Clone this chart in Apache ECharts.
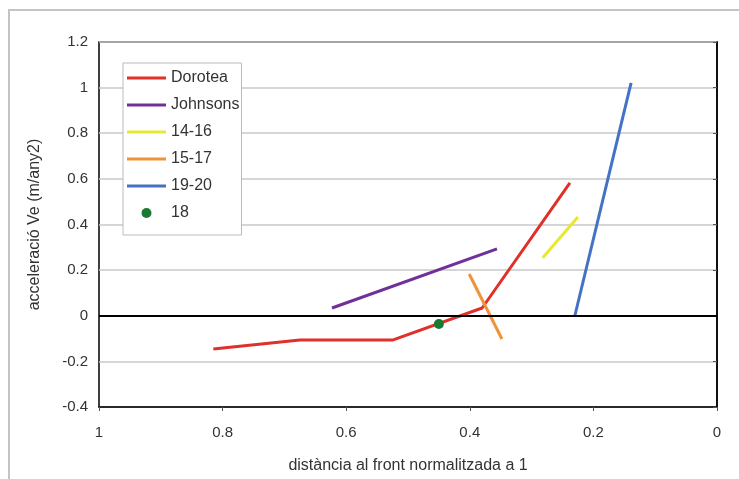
<!DOCTYPE html>
<html>
<head>
<meta charset="utf-8">
<script src="https://cdn.jsdelivr.net/npm/echarts@6/dist/echarts.min.js"></script>
<style>html,body{margin:0;padding:0;background:#fff}#c{width:739px;height:479px}</style>
</head>
<body>
<div id="c"></div>
<script>
const seriesNames = ["Dorotea", "Johnsons", "14-16", "15-17", "19-20", "18"];
const dorotea = [[0.815, -0.146], [0.675, -0.106], [0.524, -0.106], [0.380, 0.034], [0.238, 0.582]];
const johnsons = [[0.623, 0.034], [0.356, 0.293]];
const s1416 = [[0.282, 0.254], [0.225, 0.433]];
const s1517 = [[0.401, 0.183], [0.348, -0.102]];
const s1920 = [[0.230, 0.0], [0.139, 1.021]];
const s18 = [[0.450, -0.036]];
const xTitle = "distància al front normalitzada a 1";
const yTitle = "acceleració Ve (m/any2)";

const colors = ["#e0302a", "#70309a", "#e8e830", "#f0923a", "#4472c4", "#1a7a32"];
const font = "Liberation Sans, Arial, sans-serif";

function lineSeries(name, data, color) {
  return {
    name: name, type: "line", data: data, symbol: "none",
    lineStyle: { color: color, width: 3 }, itemStyle: { color: color },
    z: 3, silent: true
  };
}

const chart = echarts.init(document.getElementById("c"), null, { renderer: "canvas" });
chart.setOption({
  animation: false,
  backgroundColor: "#fff",
  textStyle: { fontFamily: font },
  graphic: [{
    type: "polyline",
    shape: { points: [[9, 479], [9, 10], [739, 10]] },
    style: { stroke: "#c4c4c4", lineWidth: 2, fill: null },
    silent: true
  }],
  grid: { left: 99, right: 22, top: 42, bottom: 72, show: true, borderColor: "#000", borderWidth: 1.5, backgroundColor: "transparent" },
  xAxis: {
    type: "value", inverse: true, min: 0, max: 1, interval: 0.2,
    name: xTitle, nameLocation: "middle", nameGap: 51,
    nameTextStyle: { fontFamily: font, fontSize: 16, color: "#333" },
    axisLine: { show: true, onZero: false, lineStyle: { color: "#000", width: 1.5 } },
    axisTick: { show: true, length: 4, lineStyle: { color: "#555" } },
    axisLabel: { fontFamily: font, fontSize: 15, color: "#333", margin: 18,
      formatter: v => String(Math.round(v * 10) / 10) },
    splitLine: { show: false }
  },
  yAxis: {
    type: "value", min: -0.4, max: 1.2, interval: 0.2,
    name: yTitle, nameLocation: "middle", nameGap: 56, nameRotate: 90,
    nameTextStyle: { fontFamily: font, fontSize: 16, color: "#333" },
    axisLine: { show: true, lineStyle: { color: "#000", width: 1.5 } },
    axisTick: { show: true, length: 4, lineStyle: { color: "#555" } },
    axisLabel: { fontFamily: font, fontSize: 15, color: "#333", margin: 11,
      formatter: v => String(Math.round(v * 10) / 10) },
    splitLine: { show: true, lineStyle: { color: "#c8c8c8", width: 1.5 } }
  },
  legend: {
    orient: "vertical", left: 123, top: 63,
    data: seriesNames.map((n, i) => ({ name: n, icon: i < 5 ? "path://M0,0H39V3H0Z" : "circle" })),
    symbolKeepAspect: true,
    backgroundColor: "#fff", borderColor: "#bbb", borderWidth: 1,
    padding: [7, 2, 14, 4],
    itemWidth: 39, itemHeight: 10, itemGap: 11,
    textStyle: { fontFamily: font, fontSize: 16, color: "#333", padding: [0, 0, 0, 0] },
    selectedMode: false
  },
  series: [
    Object.assign(lineSeries(seriesNames[0], dorotea, colors[0]), {
      markLine: {
        silent: true, symbol: "none", label: { show: false },
        lineStyle: { color: "#000", width: 2, type: "solid" },
        data: [{ yAxis: 0 }]
      }
    }),
    lineSeries(seriesNames[1], johnsons, colors[1]),
    lineSeries(seriesNames[2], s1416, colors[2]),
    lineSeries(seriesNames[3], s1517, colors[3]),
    lineSeries(seriesNames[4], s1920, colors[4]),
    { name: seriesNames[5], type: "scatter", data: s18, symbol: "circle", symbolSize: 10,
      itemStyle: { color: colors[5], opacity: 1 }, z: 4, silent: true }
  ]
});
</script>
</body>
</html>
